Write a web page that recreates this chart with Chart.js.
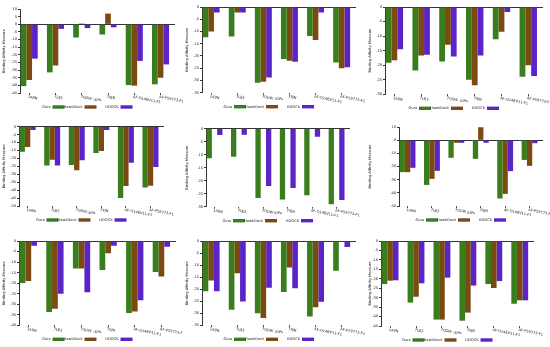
<!DOCTYPE html>
<html>
<head>
<meta charset="utf-8">
<script src="https://cdn.jsdelivr.net/npm/chart.js@4.4.0/dist/chart.umd.min.js"></script>
<style>
  html, body { margin: 0; padding: 0; background: #fff; }
  #grid { position: relative; width: 550px; height: 347px; }
  #grid canvas { position: absolute; }
</style>
</head>
<body>
<div id="grid"></div>
<script>
// --- Dados ---
const categories = ['1A9N', '7LE3', '7QDW', '7XJN', 'AF-Q14EV11-F1', 'AF-P59773-F1'];
const seriesNames = ['Ours', 'HawkDock', 'HDOCK'];

const ours1 = [-40.5, -31.5, -8.7, -6.7, -39.8, -39.3];
const hawk1 = [-36.5, -27, 0.5, 7, -40.2, -35];
const hdock1 = [-22.5, -3, -2.5, -2, -24, -26.3];

const ours2 = [-12.4, -12, -30.9, -21.2, -11.8, -22.7];
const hawk2 = [-10, -2.2, -30.5, -22, -13.5, -25];
const hdock2 = [-2.2, -2.2, -28.8, -22.4, -2.2, -24.6];

const ours3 = [-19.2, -21.8, -18.7, -25, -11.1, -24];
const hawk3 = [-18.3, -16.7, -13, -26.9, -8.5, -20];
const hdock3 = [-14.5, -16.4, -17, -16.7, -1.7, -23.7];

const ours4 = [-15.8, -24.4, -24.2, -16.6, -45, -38.4];
const hawk4 = [-12.8, -20.8, -27.5, -15.3, -37.4, -37.2];
const hdock4 = [-2.1, -24.4, -21.2, -2.1, -22.7, -25.4];

const ours5 = [-11.4, -10.8, -26.7, -27.2, -25.6, -29.1];
const hawk5 = [0, 0, 0, 0, 0, 0];
const hdock5 = [-2.4, -2.3, -22, -22.8, -3.1, -27.4];

const ours6 = [-24.3, -34, -13.4, -14.2, -44.3, -15];
const hawk6 = [-24.3, -29.4, -2, 9.8, -40.8, -19.5];
const hdock6 = [-21, -23.3, -2, -2, -23.5, -2.3];

const ours7 = [-19.9, -33.7, -13.1, -13.8, -34.2, -14.7];
const hawk7 = [-19, -32.1, -13.1, -5.8, -33.4, -16.8];
const hdock7 = [-2.2, -25, -24.3, -2.2, -28.1, -2.7];

const ours8 = [-20.9, -28.5, -30, -21.2, -31.3, -12.4];
const hawk8 = [-16.4, -13.4, -32, -11, -27.5, -0.4];
const hdock8 = [-20.9, -25.1, -19.4, -19.6, -25.2, -2.5];

const ours9 = [-22.8, -32.6, -41.6, -42.2, -22.8, -33.2];
const hawk9 = [-21, -29.5, -41.6, -37.9, -24.9, -31.4];
const hdock9 = [-20.8, -22.4, -19.4, -23.6, -21.2, -31.4];

const oursAll = [ours1, ours2, ours3, ours4, ours5, ours6, ours7, ours8, ours9];
const hawkAll = [hawk1, hawk2, hawk3, hawk4, hawk5, hawk6, hawk7, hawk8, hawk9];
const hdockAll = [hdock1, hdock2, hdock3, hdock4, hdock5, hdock6, hdock7, hdock8, hdock9];

// faixas do eixo Y por painel
const yMax = [10, 0, 0, 0, 0, 10, 0, 0, 0];
const yMin = [-45, -35, -30, -50, -30, -50, -40, -35, -45];
const yStep = [5, 5, 5, 5, 5, 10, 5, 5, 5];

// --- Layout (px dentro de cada painel) ---
const colX = [0, 183, 366], colW = [183, 183, 184];
const rowY = [0, 116, 232], rowH = [116, 116, 115];
const areaLeft = [20, 19, 19, 19, 23, 33, 19, 19, 15];
const areaRight = [175, 173, 177, 164, 167, 177, 176, 173, 168];
const areaTop = [9, 7, 7, 10.7, 12.7, 11, 9, 9, 9];
const areaBottom = [93, 92.7, 94.3, 90, 90.7, 90, 93.3, 93.3, 94];

const colors = ['#3a7d1c', '#7b4a12', '#5b24c8'];
const tinyFont = { family: '"DejaVu Sans", sans-serif', size: 3.6 };
const X_AXIS_H = 9;

// rótulos inclinados do eixo X + legenda estilo gnuplot
const idpDecor = {
    id: 'idpDecor',
    afterDraw(chart) {
        const { ctx, chartArea } = chart;
        const x = chart.scales.x;
        ctx.save();
        ctx.font = '3.6px "DejaVu Sans", sans-serif';
        ctx.fillStyle = '#222';
        ctx.textBaseline = 'top';
        ctx.textAlign = 'left';
        categories.forEach((c, i) => {
            ctx.save();
            ctx.translate(x.getPixelForValue(i) - 1, x.top + 2);
            ctx.rotate(0.2);
            ctx.fillText(c, 0, 0);
            ctx.restore();
        });

        const lx = (chartArea.left + chartArea.right) / 2 - 47;
        const ly = chartArea.bottom + 14;
        const offs = [0, 32, 68];
        ctx.textBaseline = 'middle';
        ctx.textAlign = 'right';
        seriesNames.forEach((n, k) => {
            const tx = lx + offs[k];
            ctx.fillStyle = '#222';
            ctx.fillText(n, tx, ly);
            ctx.fillStyle = colors[k];
            ctx.fillRect(tx + 2, ly - 1.7, 12, 3.4);
        });
        ctx.restore();
    }
};

const grid = document.getElementById('grid');

for (let p = 0; p < 9; p++) {
    const r = Math.floor(p / 3), c = p % 3;
    const w = colW[c], h = rowH[r];
    const cv = document.createElement('canvas');
    cv.width = w; cv.height = h;
    cv.style.left = colX[c] + 'px';
    cv.style.top = rowY[r] + 'px';
    cv.style.width = w + 'px';
    cv.style.height = h + 'px';
    grid.appendChild(cv);

    const series = [oursAll[p], hawkAll[p], hdockAll[p]];

    new Chart(cv, {
        type: 'bar',
        data: {
            datasets: series.map((vals, k) => ({
                label: seriesNames[k],
                data: vals.map((v, i) => ({ x: i, y: v })),
                backgroundColor: colors[k],
                borderWidth: 0,
                barPercentage: 1,
                categoryPercentage: 0.65
            }))
        },
        options: {
            responsive: false,
            animation: false,
            devicePixelRatio: 1,
            layout: {
                padding: {
                    left: 0,
                    top: areaTop[p],
                    right: w - areaRight[p],
                    bottom: h - areaBottom[p] - X_AXIS_H
                }
            },
            scales: {
                x: {
                    type: 'linear',
                    offset: false,
                    min: -0.35,
                    max: 5.55,
                    afterBuildTicks: s => { s.ticks = categories.map((_, i) => ({ value: i })); },
                    afterFit: s => { s.height = X_AXIS_H; },
                    border: { display: false },
                    grid: { offset: false, drawOnChartArea: false, drawTicks: true, tickLength: 2, tickColor: '#000', lineWidth: 0.7 },
                    ticks: { display: false },
                    title: { display: true, text: 'IDPs', font: tinyFont, color: '#222', padding: 0 }
                },
                y: {
                    min: yMin[p],
                    max: yMax[p],
                    afterFit: s => { s.width = areaLeft[p]; },
                    border: { display: true, color: '#000', width: 0.8 },
                    grid: {
                        color: ctx => (ctx.tick && ctx.tick.value === 0) ? '#000' : 'rgba(0,0,0,0)',
                        lineWidth: 0.8,
                        tickColor: '#000',
                        tickLength: 2
                    },
                    ticks: { stepSize: yStep[p], autoSkip: false, font: tinyFont, color: '#222', padding: 1 },
                    title: { display: true, text: 'Binding Affinity Measure', font: tinyFont, color: '#222', padding: { top: 1.5, bottom: 0 } }
                }
            },
            plugins: {
                legend: { display: false },
                tooltip: { enabled: false }
            }
        },
        plugins: [idpDecor]
    });
}
</script>
</body>
</html>
